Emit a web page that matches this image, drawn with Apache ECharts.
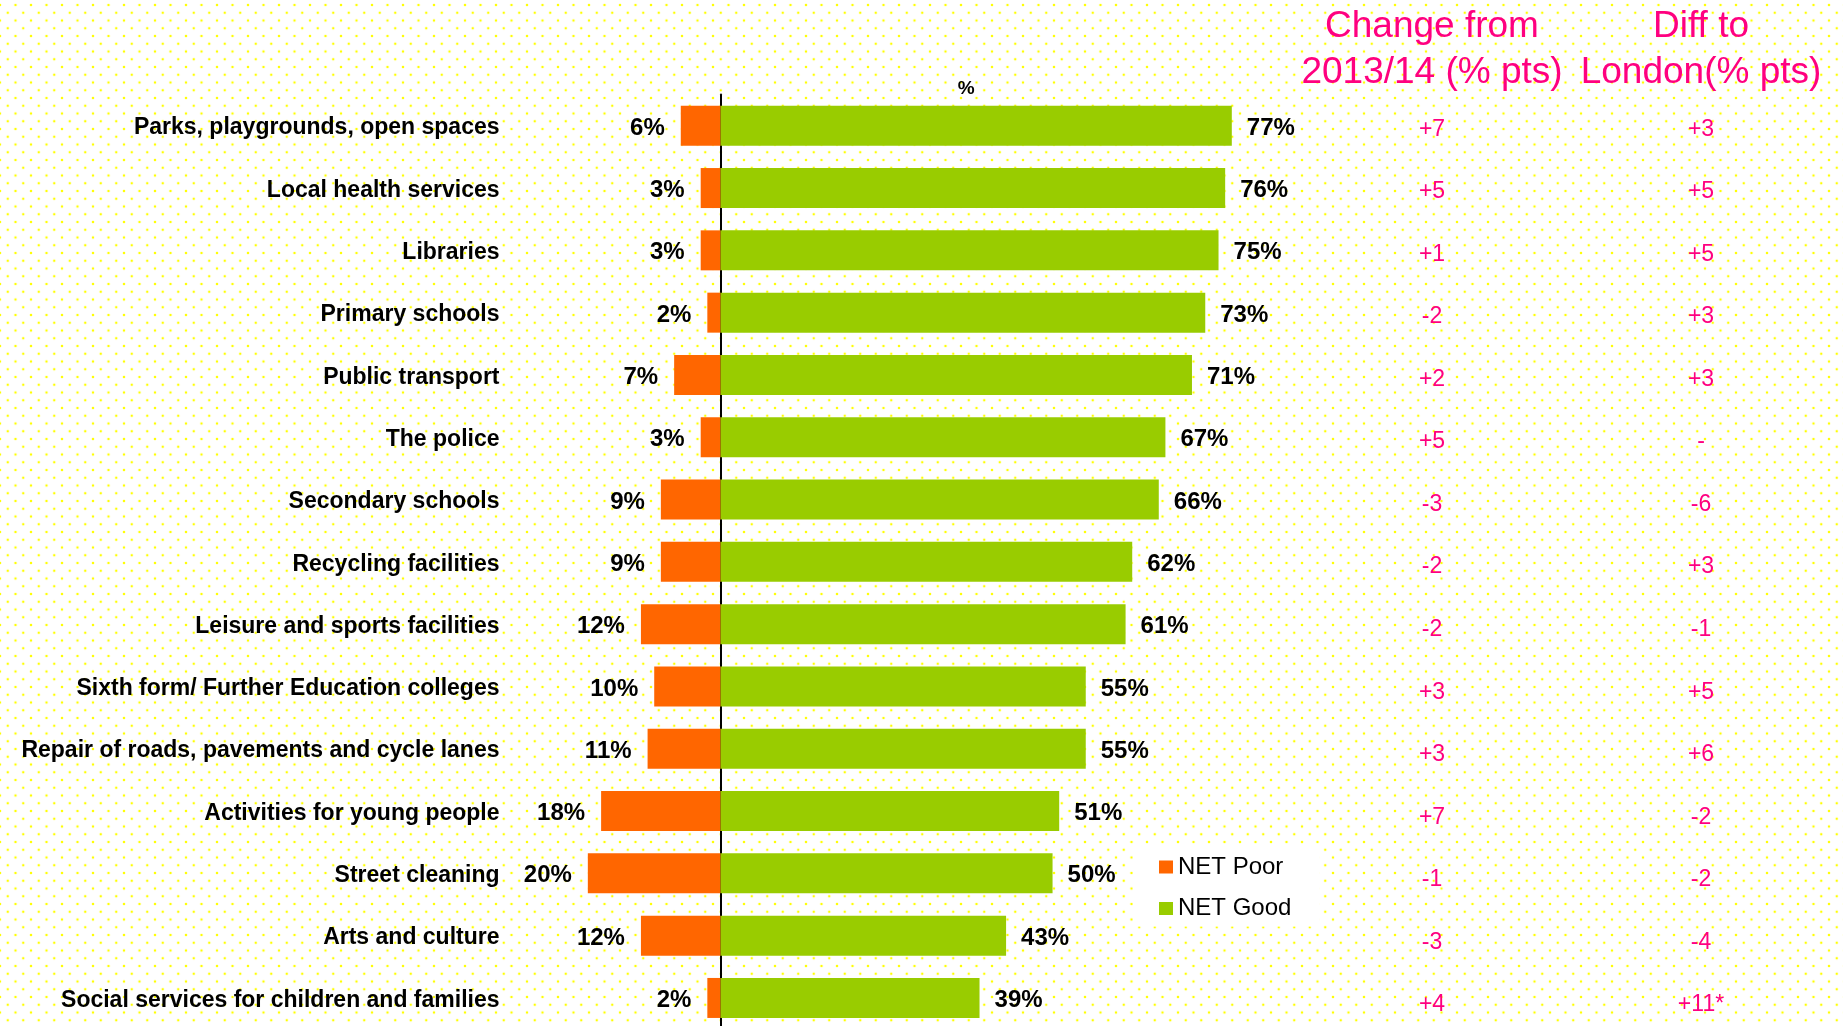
<!DOCTYPE html>
<html>
<head>
<meta charset="utf-8">
<script src="https://cdn.jsdelivr.net/npm/echarts@6/dist/echarts.min.js"></script>
<style>
  html, body { margin: 0; padding: 0; }
  #chart {
    width: 1843px;
    height: 1026px;
    background-color: #fff;
    background-image:
      radial-gradient(circle, #ffff00 1.1px, rgba(255,255,0,0) 1.6px),
      radial-gradient(circle, #ffff00 1.1px, rgba(255,255,0,0) 1.6px);
    background-size: 15.5px 15.5px;
    background-position: 0 5px, 7.75px 12.75px;
  }
</style>
</head>
<body>
<div id="chart"></div>
<script>
var categories = [
  "Parks, playgrounds, open spaces",
  "Local health services",
  "Libraries",
  "Primary schools",
  "Public transport",
  "The police",
  "Secondary schools",
  "Recycling facilities",
  "Leisure and sports facilities",
  "Sixth form/ Further Education colleges",
  "Repair of roads, pavements and cycle lanes",
  "Activities for young people",
  "Street cleaning",
  "Arts and culture",
  "Social services for children and families"
];
var netPoor = [6, 3, 3, 2, 7, 3, 9, 9, 12, 10, 11, 18, 20, 12, 2];
var netGood = [77, 76, 75, 73, 71, 67, 66, 62, 61, 55, 55, 51, 50, 43, 39];
var changeFrom = ["+7", "+5", "+1", "-2", "+2", "+5", "-3", "-2", "-2", "+3", "+3", "+7", "-1", "-3", "+4"];
var diffLondon = ["+3", "+5", "+5", "+3", "+3", "-", "-6", "+3", "-1", "+5", "+6", "-2", "-2", "-4", "+11*"];

var FONT = '"Liberation Sans", Arial, sans-serif';
var PINK = "#ff0080";

var chart = echarts.init(document.getElementById("chart"));

chart.setOption({
  animation: false,
  textStyle: { fontFamily: FONT },
  grid: [
    // bars
    { left: 548, right: 458.5, top: 94.6, height: 934.5, outerBoundsMode: "none", containLabel: false },
    // pink columns, spaced a little wider than the bars
    { left: 548, right: 458.5, top: 98.1, height: 938.1, outerBoundsMode: "none", containLabel: false },
    // category names, nudged down a touch
    { left: 548, right: 458.5, top: 97, height: 934.5, outerBoundsMode: "none", containLabel: false }
  ],
  legend: {
    data: ["NET Poor", "NET Good"],
    orient: "vertical",
    left: 1133,
    top: 847,
    padding: [8, 28, 6, 26],
    backgroundColor: "#fff",
    icon: "rect",
    itemWidth: 14,
    itemHeight: 13,
    itemGap: 17.5,
    textStyle: { fontSize: 24, color: "#000", lineHeight: 24, fontFamily: FONT }
  },
  graphic: [
    {
      type: "text", x: 1432, y: 50,
      style: { text: "Change from\n2013/14 (% pts)", align: "center", verticalAlign: "middle",
        font: "37px " + FONT, lineHeight: 46, fill: PINK }
    },
    {
      type: "text", x: 1701, y: 50,
      style: { text: "Diff to\nLondon(% pts)", align: "center", verticalAlign: "middle",
        font: "37px " + FONT, lineHeight: 46, fill: PINK }
    }
  ],
  xAxis: [
    {
      type: "value",
      position: "top",
      min: -26,
      max: 100,
      name: "%",
      nameLocation: "middle",
      nameGap: -4,
      nameTextStyle: { fontSize: 19, fontWeight: "bold", color: "#000" },
      axisLine: { show: false },
      axisTick: { show: false },
      axisLabel: { show: false },
      splitLine: { show: false }
    },
    { type: "value", gridIndex: 1, min: -26, max: 100, show: false },
    { type: "value", gridIndex: 2, min: -26, max: 100, show: false }
  ],
  yAxis: [
    {
      type: "category",
      data: categories,
      inverse: true,
      axisLine: { onZero: true, lineStyle: { color: "#000", width: 2 } },
      axisTick: { show: false },
      axisLabel: { show: false }
    },
    {
      type: "category",
      gridIndex: 1,
      data: changeFrom,
      inverse: true,
      position: "right",
      axisLine: { show: false, onZero: false },
      axisTick: { show: false },
      axisLabel: { margin: 47.5, align: "center", fontSize: 23, color: PINK }
    },
    {
      type: "category",
      gridIndex: 1,
      data: diffLondon,
      inverse: true,
      position: "right",
      axisLine: { show: false, onZero: false },
      axisTick: { show: false },
      axisLabel: { margin: 316.5, align: "center", fontSize: 23, color: PINK }
    },
    {
      type: "category",
      gridIndex: 2,
      data: categories,
      inverse: true,
      position: "left",
      axisLine: { show: false, onZero: false },
      axisTick: { show: false },
      axisLabel: { margin: 48.5, fontSize: 23, fontWeight: "bold", color: "#000" }
    }
  ],
  series: [
    {
      name: "NET Poor",
      type: "bar",
      stack: "a",
      barWidth: 40,
      itemStyle: { color: "#ff6600" },
      label: {
        show: true,
        position: "left",
        distance: 16,
        offset: [0, 2.5],
        fontSize: 24,
        fontWeight: "bold",
        color: "#000",
        formatter: function (p) { return Math.abs(p.value) + "%"; }
      },
      data: netPoor.map(function (v) { return -v; })
    },
    {
      name: "NET Good",
      type: "bar",
      stack: "a",
      barWidth: 40,
      itemStyle: { color: "#99cc00" },
      label: {
        show: true,
        position: "right",
        distance: 15,
        offset: [0, 2.5],
        fontSize: 24,
        fontWeight: "bold",
        color: "#000",
        formatter: "{c}%"
      },
      data: netGood
    }
  ]
});
</script>
</body>
</html>
